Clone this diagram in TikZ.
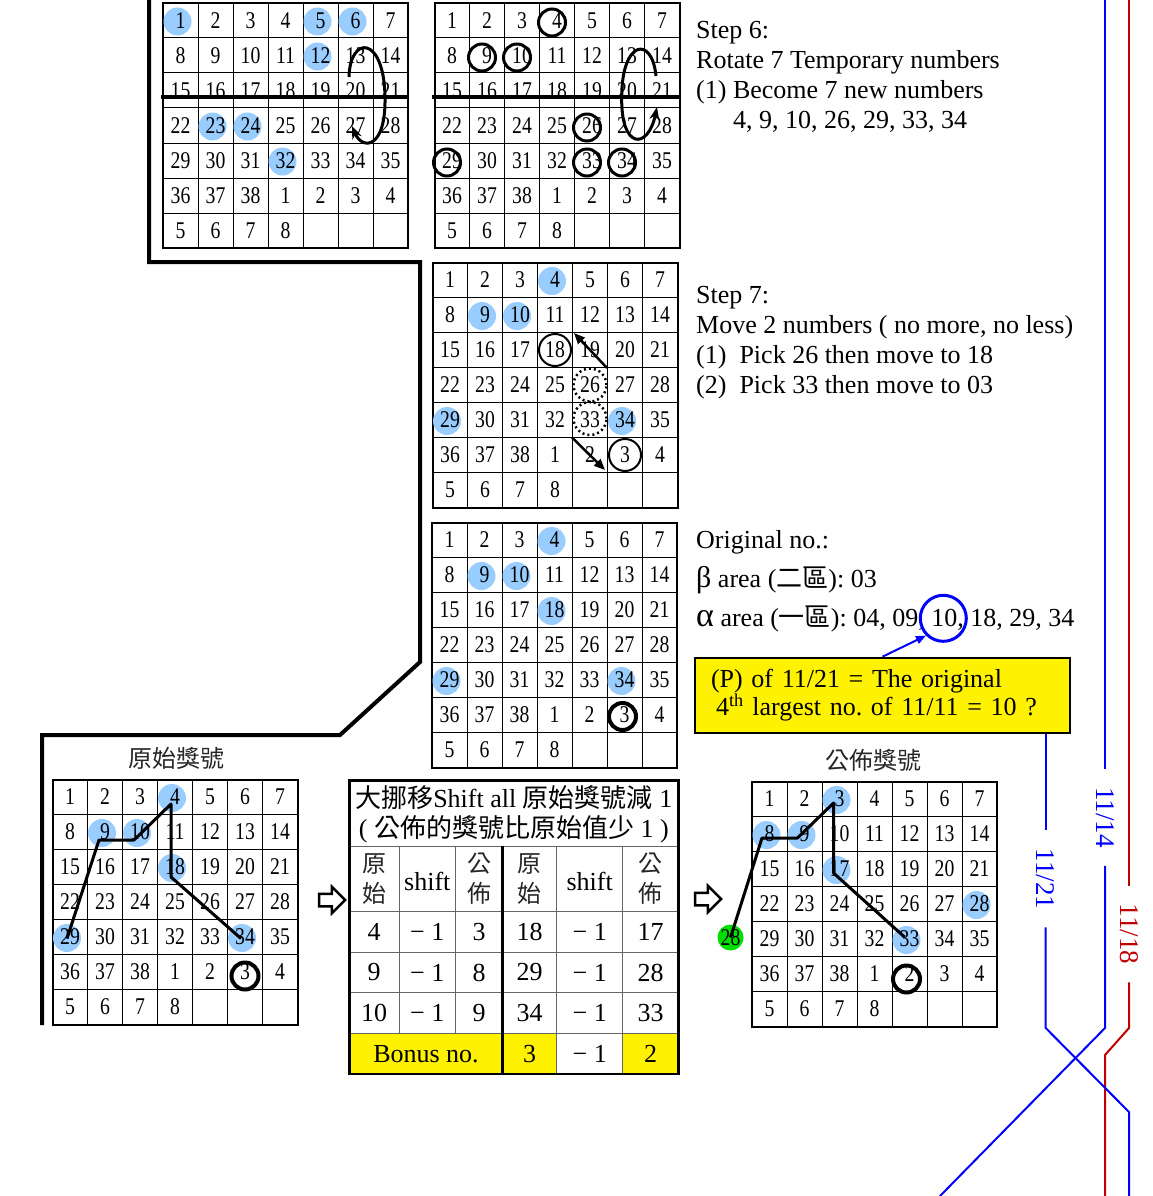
\documentclass[tikz,border=0pt]{standalone}
\usepackage{fontspec}
\setmainfont{Liberation Serif}
\newfontfamily\cjk{Noto Sans CJK TC}
\newfontfamily\gridfont[FakeStretch=0.82]{Liberation Serif}
\usetikzlibrary{arrows.meta,shapes.arrows}

\definecolor{hilite}{RGB}{153,204,255}
\definecolor{lotred}{RGB}{192,0,0}
\definecolor{lotblue}{RGB}{0,0,255}
\definecolor{lotgreen}{RGB}{0,224,0}

\tikzset{
  num/.style={font=\gridfont\fontsize{24}{24}\selectfont, inner sep=0pt},
  cellline/.style={line width=1pt},
  gridframe/.style={line width=2pt},
  pickring/.style={circle, draw, line width=3pt, minimum size=27pt, inner sep=0pt},
  softring/.style={circle, draw, line width=2pt, minimum size=32pt, inner sep=0pt},
  dotring/.style={circle, draw, line width=2.5pt, dash pattern=on 2pt off 3pt, minimum size=33pt, inner sep=0pt},
  heavyring/.style={circle, draw, line width=4pt, minimum size=27pt, inner sep=0pt},
  turnarrow/.style={line width=3pt, -{Stealth[length=13pt,width=10pt]}},
  movearrow/.style={line width=2.5pt, -{Triangle[length=11pt,width=9pt]}},
  pathline/.style={line width=3pt, line join=round},
  greenball/.style={circle, fill=lotgreen, minimum size=26pt, inner sep=0pt, font=\gridfont\fontsize{24}{24}\selectfont},
  cjktitle/.style={font=\cjk\fontsize{24}{24}\selectfont, text=black!85, inner sep=0pt},
  tbltext/.style={font=\fontsize{26}{30}\selectfont, inner sep=0pt, align=center},
  tblcjk/.style={font=\cjk\fontsize{24}{30}\selectfont, inner sep=0pt, align=center, text=black!85},
  tblline/.style={line width=1pt, black!60},
  tblframe/.style={line width=2.5pt},
  hollowarrow/.style={single arrow, draw, line width=2.5pt, fill=white, minimum height=26pt,
    inner xsep=0pt, inner ysep=5pt, single arrow head extend=7pt},
  steptext/.style={font=\fontsize{26}{30}\selectfont, align=left, inner sep=0pt, anchor=base west},
  pbox/.style={draw, fill=yellow, line width=2pt, minimum height=75pt, text width=343pt,
    inner xsep=16pt, align=left, font=\fontsize{26}{28.5}\selectfont},
  bluering/.style={circle, draw=lotblue, line width=3pt, minimum size=46pt, inner sep=0pt},
  bluearrow/.style={lotblue, line width=2pt, -{Triangle[length=10pt,width=8pt]}},
  dateline/.style={line width=2pt},
  datelabel/.style={rotate=-90, font=\fontsize{27}{27}\selectfont, inner xsep=18pt, inner ysep=1pt}
}

% one 7x7 board: name, x and y of the top left corner, highlighted cells
\newcommand{\lotgrid}[4]{%
  \begin{scope}[shift={(#2,#3)}]
    \foreach \k in {1,...,6} {
      \draw[cellline] (\k*35,0) -- (\k*35,245);
      \draw[cellline] (0,\k*35) -- (245,\k*35);
    }
    \draw[gridframe] (0,0) rectangle (245,245);
    \foreach \h in {#4} {
      \ifnum\h>0
        \pgfmathtruncatemacro\hrow{(\h-1)/7}
        \pgfmathtruncatemacro\hcol{mod(\h-1,7)}
        \fill[hilite] (\hcol*35+14.5,\hrow*35+18.5) circle[radius=14];
      \fi
    }
    \foreach \n [count=\i] in {1,...,38,1,2,3,4,5,6,7,8} {
      \pgfmathtruncatemacro\nrow{(\i-1)/7}
      \pgfmathtruncatemacro\ncol{mod(\i-1,7)}
      \node[num] (#1-\i) at (\ncol*35+17.5,\nrow*35+17.5) {\n};
    }
  \end{scope}}

\begin{document}
\frenchspacing
\begin{tikzpicture}[x=1pt,y=-1pt]
\useasboundingbox (0,0) rectangle (1153,1196);

% Bold frame round the steps
\draw[line width=4pt] (149,0) -- (149,262) -- (420,262) -- (420,662) -- (340,735) -- (42,735) -- (42,1025);

% Boards
\lotgrid{ga}{163}{3}{1,5,6,12,23,24,32}
\lotgrid{gb}{434.5}{3}{0}
\lotgrid{gc}{432.5}{262.5}{4,9,10,29,34}
\lotgrid{gd}{432}{522.5}{4,9,10,18,29,34}
\lotgrid{ge}{52.5}{779.5}{4,9,10,18,29,34}
\lotgrid{gf}{752}{781.5}{3,8,9,17,28,33}

% Step 6: cut line and rotation
\draw[line width=4pt] (161,97) -- (408,97);
\draw[line width=4pt] (432,97) -- (679,97);
\draw[turnarrow] ([shift={(-6.5,-13.5)}]ga-20.center) .. controls +(1,-42) and +(-1,-62) .. ([shift={(29.5,6.5)}]ga-20.center)
  .. controls +(1,53) and +(10,24) .. ([shift={(-3.5,0.5)}]ga-27.center);
\draw[turnarrow] ([shift={(-6,-14.5)}]gb-21.center) .. controls +(-4,-41) and +(0,-57) .. ([shift={(-5.3,6.5)}]gb-20.center)
  .. controls +(-1,53) and +(-9,43) .. ([shift={(-5,16.5)}]gb-21.center);
\foreach \k in {4,9,10,26,29,33,34}
  \node[pickring] (gb-ring\k) at ([shift={(-5,2)}]gb-\k.center) {};

% Step 7: two moves
\node[softring] (gc-ring18) at (gc-18) {};
\node[softring] (gc-ring41) at (gc-41) {};
\node[dotring] (gc-dot26) at (gc-26) {};
\node[dotring] (gc-dot33) at ([shift={(0,-1.5)}]gc-33.center) {};
\draw[movearrow] ([shift={(17,-17)}]gc-26.center) -- ([shift={(-16,-17)}]gc-19.center);
\draw[movearrow] ([shift={(-18,17.5)}]gc-33.center) -- ([shift={(15,15)}]gc-40.center);

% Original numbers
\node[heavyring] (gd-ring41) at ([shift={(-2,1.5)}]gd-41.center) {};
\node[cjktitle] (orig-title) at (176.7,758.3) {原始獎號};
\node[heavyring] (ge-ring41) at ([shift={(0,4)}]ge-41.center) {};
\draw[pathline] ([shift={(-3,1.5)}]ge-29.center) -- ([shift={(-6,8)}]ge-9.center) -- ([shift={(-6,8)}]ge-10.center)
  -- ([shift={(-4,7)}]ge-4.center) -- ([shift={(-4,10)}]ge-18.center) -- ([shift={(-4,1.5)}]ge-34.center);

% Published numbers
\node[cjktitle] (pub-title) at (873.3,760.7) {公佈獎號};
\node[heavyring] (gf-ring40) at ([shift={(-3,5)}]gf-40.center) {};
\node[greenball] (gf-ball28) at (730.5,937.5) {28};
\draw[pathline] (gf-ball28.center) -- ([shift={(-7.5,4)}]gf-8.center) -- ([shift={(-7,4)}]gf-9.center)
  -- ([shift={(-6,4)}]gf-3.center) -- ([shift={(-6,4)}]gf-17.center) -- ([shift={(-5,-2)}]gf-33.center);

% Shift table
\fill[yellow] (349.3,1033.3) rectangle (556.7,1074);
\fill[yellow] (622.7,1033.3) rectangle (678.3,1074);
\foreach \yy in {846,911.7,952.3,992.7,1033.3}
  \draw[tblline] (349.3,\yy) -- (678.3,\yy);
\foreach \xx in {399,455.7}
  \draw[tblline] (\xx,846) -- (\xx,1033.3);
\foreach \xx in {556.7,622.7}
  \draw[tblline] (\xx,846) -- (\xx,1074);
\draw[line width=3pt] (502.7,846) -- (502.7,1074);
\draw[tblframe] (349.3,780.7) rectangle (678.3,1074);
\node[tbltext] (tbl-title) at (513.8,814.5) {{\cjk 大挪移}Shift all {\cjk 原始獎號減} 1\\( {\cjk 公佈的獎號比原始值少} 1 )};
\node[tblcjk] (tbl-h1) at (374.2,879) {原\\始};
\node[tbltext] (tbl-h2) at (427.3,881) {shift};
\node[tblcjk] (tbl-h3) at (479.2,879) {公\\佈};
\node[tblcjk] (tbl-h4) at (529.7,879) {原\\始};
\node[tbltext] (tbl-h5) at (589.7,881) {shift};
\node[tblcjk] (tbl-h6) at (650.5,879) {公\\佈};
\foreach \va/\vb/\vc/\vd/\yy [count=\r] in {4/3/18/17/932,9/8/29/28/972.5,10/9/34/33/1013} {
  \node[tbltext] (tbl-\r-1) at (374.2,\yy) {\va};
  \node[tbltext] (tbl-\r-2) at (427.3,\yy) {− 1};
  \node[tbltext] (tbl-\r-3) at (479.2,\yy) {\vb};
  \node[tbltext] (tbl-\r-4) at (529.7,\yy) {\vc};
  \node[tbltext] (tbl-\r-5) at (589.7,\yy) {− 1};
  \node[tbltext] (tbl-\r-6) at (650.5,\yy) {\vd};
}
\node[tbltext] (tbl-bonus) at (426,1053.7) {Bonus no.};
\node[tbltext] (tbl-b4) at (529.7,1053.7) {3};
\node[tbltext] (tbl-b5) at (589.7,1053.7) {− 1};
\node[tbltext] (tbl-b6) at (650.5,1053.7) {2};

% Hollow arrows between the boards
\node[hollowarrow] (arr-a) at (329,900) {};
\node[hollowarrow] (arr-b) at (705,899) {};

% Texts of the steps (placed by the baseline of their last line)
\node[steptext] (step6) at (696,128.3) {Step 6:\\Rotate 7 Temporary numbers\\(1) Become 7 new numbers\\\hspace*{37pt}4, 9, 10, 26, 29, 33, 34};
\node[steptext] (step7) at (696,393.5) {Step 7:\\Move 2 numbers ( no more, no less)\\(1)\ \ Pick 26 then move to 18\\(2)\ \ Pick 33 then move to 03};
\node[steptext, font=\fontsize{26}{39}\selectfont] (orig) at (696,626.3) {Original no.:\\{\fontsize{30}{30}\selectfont β} area ({\cjk 二區}): 03\\{\fontsize{34}{34}\selectfont α} area ({\cjk 一區}): 04, 09, 10, 18, 29, 34};
\node[bluering] (ring10) at (943.3,618.3) {};
\node[pbox] (pbox) at (882.5,695.2) {(P) of 11/21 = The original\\\hspace*{5pt}4\textsuperscript{th} largest no. of 11/11 = 10 ?};
\draw[bluearrow] (pbox.north) -- (ring10.225);

% Dates at the right
\node[datelabel, text=lotblue] (d1114) at (1105,817.5) {11/14};
\node[datelabel, text=lotred] (d1118) at (1129,934) {11/18};
\node[datelabel, text=lotblue] (d1121) at (1045.7,878.8) {11/21};
\coordinate (top1114) at (1105,0);
\coordinate (top1118) at (1129,0);
\coordinate (end1114) at (940,1196);
\coordinate (end1118) at (1105,1196);
\coordinate (end1121) at (1129,1196);
\draw[dateline, lotblue] (top1114) -- (d1114);
\draw[dateline, lotblue] (d1114) -- (1105,1028) -- (end1114);
\draw[dateline, lotred] (top1118) -- (d1118);
\draw[dateline, lotred] (d1118) -- (1129,1028) -- (1105,1055) -- (end1118);
\draw[dateline, lotblue] ([xshift=163.2pt]pbox.south) -- (d1121);
\draw[dateline, lotblue] (d1121) -- (1045.7,1028) -- (1129,1112) -- (end1121);

\end{tikzpicture}
\end{document}
